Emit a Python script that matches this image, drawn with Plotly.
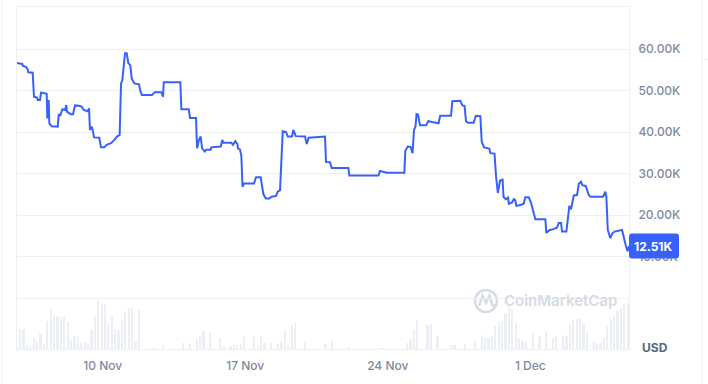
import plotly.graph_objects as go
import pandas as pd

# ---------------- data ----------------
START = pd.Timestamp("2024-11-05 19:00")

PRICE_HOURS = [0, 6.2, 7.1, 10.6, 12.6, 13.3, 18.5, 20.0, 23.6, 24.4, 27.1, 28.3, 33.8, 35.0, 35.7, 37.4, 38.1, 40.9,
               48.0, 49.2, 51.0, 53.4, 56.6, 58.1, 58.9, 63.3, 66.0, 68.4, 73.1, 76.3, 78.6, 81.3, 83.3, 84.9, 86.0,
               88.0, 89.2, 90.8, 97.0, 99.0, 102.9, 105.7, 107.6, 110.8, 114.7, 117.9, 121.0, 122.6, 124.1, 127.3,
               129.3, 131.2, 133.5, 135.2, 138.3, 143.8, 145.6, 147.3, 159.1, 162.3, 170.1, 172.1, 173.0, 192.5,
               193.7, 202.4, 203.9, 211.0, 212.2, 214.5, 216.5, 218.1, 221.2, 223.1, 228.3, 229.0, 240.1, 242.0,
               243.2, 252.6, 254.6, 257.3, 259.7, 260.5, 262.8, 264.4, 265.8, 267.6, 279.3, 281.7, 287.2, 290.3,
               293.1, 297.4, 300.2, 305.3, 307.3, 310.0, 313.2, 317.1, 319.1, 324.1, 325.7, 328.5, 339.5, 341.5,
               343.8, 363.0, 364.2, 368.9, 370.9, 390.5, 391.7, 425.9, 427.9, 433.8, 435.8, 456.5, 457.7, 460.5,
               463.8, 466.2, 467.9, 469.7, 470.9, 472.6, 475.0, 482.1, 484.8, 489.2, 496.8, 498.8, 511.5, 513.1,
               522.5, 524.9, 527.5, 529.2, 531.6, 538.1, 540.8, 546.1, 547.7, 550.4, 556.6, 557.9, 562.8, 564.6,
               566.7, 569.3, 572.3, 573.4, 576.0, 578.8, 579.6, 583.5, 585.5, 587.3, 588.5, 593.2, 597.2, 599.1,
               603.1, 605.8, 608.2, 610.9, 622.7, 623.9, 627.9, 632.6, 636.5, 638.5, 641.2, 642.4, 647.5, 649.1,
               651.0, 653.0, 656.2, 660.1, 662.1, 664.8, 666.3, 670.3, 673.9, 675.8, 690.7, 693.4, 694.6, 696.3,
               699.3, 701.7, 704.1, 713.1, 715.1, 717.8, 719.6, 721.3]

PRICE_K = [56.6, 56.4, 55.9, 55.7, 55.1, 54.4, 54.3, 48.5, 48.3, 47.7, 47.7, 49.5, 49.3, 49.2, 43.3, 47.7, 42.1, 41.4,
           41.3, 44.3, 43.9, 45.5, 45.3, 46.5, 44.9, 44.3, 44.3, 46.4, 46.3, 46.1, 45.3, 45.1, 45.0, 45.7, 40.5,
           41.3, 40.5, 38.7, 38.6, 36.3, 36.3, 36.9, 37.1, 37.3, 38.1, 38.9, 39.3, 51.7, 52.4, 59.0,
           59.0, 56.6, 56.1, 52.9, 51.7, 51.5, 49.7, 48.9, 48.9, 49.6, 49.6, 48.5, 52.0, 52.0,
           45.5, 45.5, 43.4, 43.4, 36.1, 38.1, 38.9, 36.1, 35.3, 35.7, 35.7, 36.3, 36.5, 38.1,
           37.4, 37.4, 36.9, 37.8, 37.1, 36.0, 35.8, 34.3, 26.8, 27.6, 27.6, 29.1, 29.1, 25.1,
           24.0, 24.0, 24.4, 24.6, 25.6, 26.0, 40.2, 40.0, 38.9, 38.9, 40.5, 39.0, 38.9, 37.1,
           38.6, 38.9, 32.8, 32.7, 31.3, 31.3, 29.5, 29.5, 30.6, 30.4, 30.2, 30.2, 35.5, 36.5,
           36.4, 34.9, 40.5, 41.3, 44.3, 44.2, 41.6, 41.6, 42.6, 42.4, 42.1, 43.9, 43.9, 47.4,
           47.5, 46.4, 46.3, 42.6, 42.2, 42.2, 43.9, 43.8, 37.7, 36.3, 36.0, 34.9, 34.8, 29.3,
           25.3, 28.3, 28.5, 24.4, 23.8, 24.2, 22.7, 23.0, 23.8, 23.6, 22.2, 22.4, 22.7, 24.3,
           24.3, 23.0, 21.2, 19.0, 19.0, 15.7, 16.4, 16.6, 17.0, 18.1, 18.1, 16.0, 16.0, 18.8,
           22.2, 21.4, 24.7, 24.8, 27.5, 28.0, 27.2, 27.0, 24.8, 24.4, 24.4, 25.6, 24.4, 16.4,
           14.4, 15.6, 16.0, 16.4, 14.4, 12.4, 11.3, 12.51]

VOLUME_STEP_HOURS = 4
VOLUME = [3, 20, 20, 4, 3, 11, 8, 15, 5, 28,
          40, 33, 33, 31, 33, 27, 9, 13, 12, 6,
          7, 6, 19, 33, 48, 44, 45, 25, 34, 19,
          19, 30, 38, 41, 41, 8, 39, 0, 0, 0,
          1, 0, 0, 4, 0, 0, 0, 0, 0, 6,
          0, 6, 0, 10, 13, 18, 0, 16, 0, 0,
          11, 3, 0, 3, 4, 4, 5, 13, 0, 0,
          13, 4, 13, 6, 0, 6, 0, 6, 7, 19,
          4, 24, 26, 0, 0, 8, 0, 0, 0, 0,
          0, 5, 0, 8, 0, 0, 0, 0, 2, 0,
          0, 0, 0, 0, 0, 0, 0, 1, 1, 0,
          0, 0, 0, 0, 0, 6, 10, 19, 29, 0,
          0, 24, 25, 0, 13, 0, 0, 0, 4, 4,
          0, 0, 5, 0, 0, 8, 0, 14, 12, 11,
          13, 23, 27, 27, 36, 42, 40, 26, 11, 8,
          7, 0, 16, 0, 13, 0, 18, 0, 11, 13,
          0, 14, 13, 24, 29, 30, 31, 25, 16, 0,
          8, 6, 6, 11, 24, 30, 33, 38, 41, 45,
          46]

Y_TICKS = [0, 10000, 20000, 30000, 40000, 50000, 60000]
Y_TICK_TEXT = ["", "10.00K", "20.00K", "30.00K", "40.00K", "50.00K", "60.00K"]
X_TICKS = ["2024-11-10", "2024-11-17", "2024-11-24", "2024-12-01"]
X_TICK_TEXT = ["10 Nov", "17 Nov", "24 Nov", "1 Dec"]
CURRENCY = "USD"
WATERMARK = "CoinMarketCap"

# ---------------- build ----------------
df = pd.DataFrame({"h": PRICE_HOURS, "p": PRICE_K})
df["t"] = START + pd.to_timedelta(df["h"], unit="h")
df["v"] = df["p"] * 1000

vol_t = [START + pd.Timedelta(hours=VOLUME_STEP_HOURS * i) for i in range(len(VOLUME))]

BLUE = "#3861fb"
GRID = "#eceff3"
LABEL = "#808a9d"
FONT = "Inter"

W, H = 708, 384
ML, MR, MT, MB = 17, 79, 7, 35
PW, PH = W - ML - MR, H - MT - MB
Y_RANGE = [-12290, 70120]


def px2x(px):
    return (px - ML) / PW


def py2y(py):
    return (H - MB - py) / PH


fig = go.Figure()
fig.add_trace(go.Bar(
    x=vol_t, y=VOLUME, yaxis="y2",
    width=VOLUME_STEP_HOURS * 0.5 * 3600 * 1000,
    marker=dict(color="#eceff3", line=dict(width=0)),
    hoverinfo="skip", showlegend=False,
))
fig.add_trace(go.Scatter(
    x=df["t"], y=df["v"], mode="lines",
    line=dict(color=BLUE, width=2),
    showlegend=False,
))

last_v = df["v"].iloc[-1]
box_h = 3010
bx0, bx1 = 1.0, px2x(679)
rx, ry = 3 / PW, 3 / (PH / (Y_RANGE[1] - Y_RANGE[0]))
by0, by1 = last_v - box_h, last_v + box_h
path = (f"M{bx0 + rx},{by0} L{bx1 - rx},{by0} Q{bx1},{by0} {bx1},{by0 + ry} "
        f"L{bx1},{by1 - ry} Q{bx1},{by1} {bx1 - rx},{by1} L{bx0 + rx},{by1} "
        f"Q{bx0},{by1} {bx0},{by1 - ry} L{bx0},{by0 + ry} Q{bx0},{by0} {bx0 + rx},{by0} Z")

shapes = [
    dict(type="path", xref="paper", yref="y", path=path, fillcolor=BLUE,
         line=dict(width=0), layer="above"),
    # outer container borders
    dict(type="line", xref="paper", yref="paper", x0=px2x(2), x1=px2x(2), y0=py2y(0), y1=py2y(384),
         line=dict(color="#eef1f4", width=1)),
    dict(type="line", xref="paper", yref="paper", x0=px2x(702), x1=px2x(702), y0=py2y(0), y1=py2y(384),
         line=dict(color="#eef1f4", width=1)),
    dict(type="line", xref="paper", yref="paper", x0=px2x(702), x1=px2x(708), y0=py2y(59.5), y1=py2y(59.5),
         line=dict(color="#eef1f4", width=1)),
    # watermark logo
    dict(type="circle", xref="paper", yref="paper", x0=px2x(475), x1=px2x(497), y0=py2y(312), y1=py2y(290),
         line=dict(color="#d6dce5", width=2.5), layer="below"),
    dict(type="path", xref="paper", yref="paper", layer="below",
         path=(f"M{px2x(479)},{py2y(306)} L{px2x(482.5)},{py2y(295.5)} L{px2x(486)},{py2y(303)} "
               f"L{px2x(489.5)},{py2y(295.5)} L{px2x(492)},{py2y(304)} Q{px2x(493)},{py2y(307)} {px2x(496)},{py2y(305)}"),
         line=dict(color="#d6dce5", width=2.5)),
]

annotations = [
    dict(xref="paper", yref="y", x=(bx0 + bx1) / 2, y=last_v, text=f"{last_v / 1000:.2f}K",
         showarrow=False, xanchor="center", yanchor="middle",
         font=dict(family=FONT, size=12, color="white", weight=700)),
    dict(xref="paper", yref="paper", x=px2x(655), y=py2y(347), text=CURRENCY, showarrow=False,
         xanchor="center", yanchor="middle", font=dict(family=FONT, size=12, color="#58667e", weight=700)),
    dict(xref="paper", yref="paper", x=px2x(560), y=py2y(300), text=WATERMARK, showarrow=False,
         xanchor="center", yanchor="middle", font=dict(family=FONT, size=15, color="#d6dce5", weight=600)),
]

fig.update_layout(
    width=W, height=H,
    margin=dict(l=ML, r=MR, t=MT, b=MB, pad=0),
    paper_bgcolor="white", plot_bgcolor="white",
    font=dict(family=FONT, size=12, color=LABEL),
    bargap=0,
    xaxis=dict(
        type="date", range=[df["t"].iloc[0], df["t"].iloc[-1]],
        tickvals=X_TICKS, ticktext=X_TICK_TEXT, showgrid=False, zeroline=False,
        showline=True, mirror=True, linecolor=GRID, linewidth=1, ticks="",
        tickfont=dict(family=FONT, size=12, color=LABEL, weight=500), ticklabelstandoff=6,
    ),
    yaxis=dict(
        side="right", range=Y_RANGE, tickvals=Y_TICKS, ticktext=Y_TICK_TEXT,
        showgrid=True, gridcolor=GRID, gridwidth=1, zeroline=False,
        showline=True, mirror=True, linecolor=GRID, linewidth=1, ticks="",
        tickfont=dict(family=FONT, size=12, color=LABEL, weight=500), ticklabelstandoff=6,
    ),
    yaxis2=dict(overlaying="y", range=[0, PH], visible=False, fixedrange=True),
    shapes=shapes,
    annotations=annotations,
    hovermode=False,
)

fig.write_html("out.html", config={"displayModeBar": False})
